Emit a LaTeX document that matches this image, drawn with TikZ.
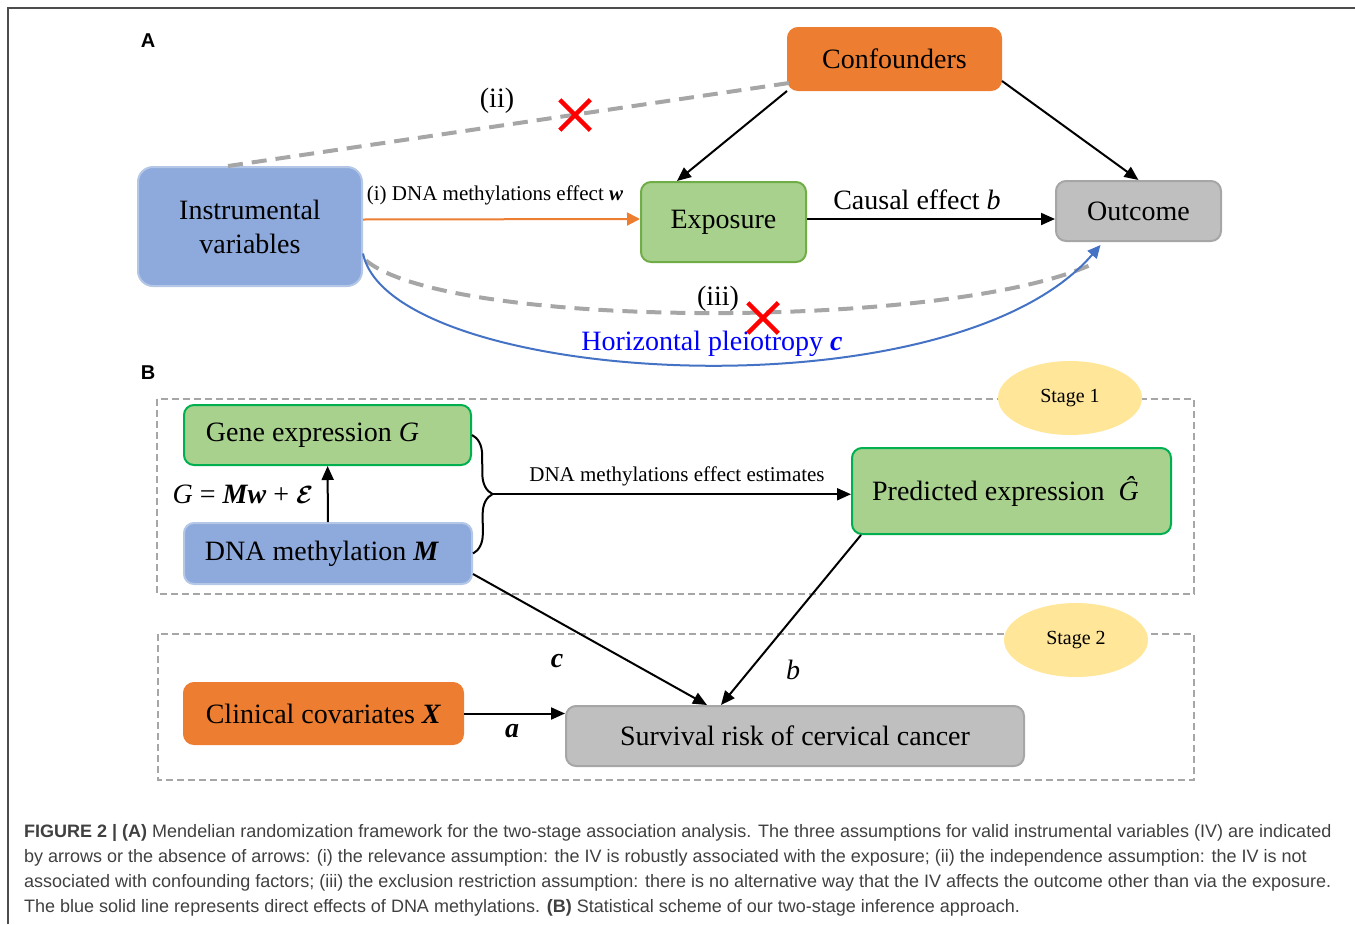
\documentclass[tikz,border=0pt]{standalone}
\usepackage{amsmath,bm}
\usepackage{fontspec}
\setmainfont{Liberation Serif}
\newfontfamily\capfont{Liberation Sans}
\usetikzlibrary{arrows.meta,calc,shapes.geometric,shapes.misc,decorations.pathreplacing}
\definecolor{ivblue}{HTML}{8EA9DB}
\definecolor{ivline}{HTML}{B4C7E7}
\definecolor{cforange}{HTML}{ED7D31}
\definecolor{expgreen}{HTML}{A9D18E}
\definecolor{expline}{HTML}{70AD47}
\definecolor{brightgreen}{HTML}{00B050}
\definecolor{outgray}{HTML}{BFBFBF}
\definecolor{outline}{HTML}{A6A6A6}
\definecolor{stageyellow}{HTML}{FFE699}
\definecolor{pleioblue}{HTML}{4472C4}
\definecolor{captext}{HTML}{404040}
\newcommand\bitext[1]{\textbf{\textit{#1}}}

\begin{document}
\begin{tikzpicture}[x=1pt,y=-1pt,
    box/.style={rounded corners=10pt,line width=2pt,inner sep=0pt,align=center,
      font=\fontsize{28}{34}\selectfont},
    lab/.style={font=\fontsize{28}{32}\selectfont,inner sep=0pt},
    smalllab/.style={font=\fontsize{21}{24}\selectfont,inner sep=0pt},
    arr/.style={line width=2pt,-{Triangle[length=14pt,width=12pt]}},
    notpath/.style={draw=outline,line width=4pt,dash pattern=on 15pt off 9pt},
    nox/.style={cross out,draw=red,line width=4.5pt,minimum size=26pt,inner sep=0pt},
    stagebox/.style={draw=outline,line width=1.6pt,dash pattern=on 7pt off 4pt},
    stage/.style={ellipse,fill=stageyellow,minimum width=144pt,minimum height=74pt,
      inner sep=0pt,font=\fontsize{20}{24}\selectfont},
    panel/.style={font=\capfont\bfseries\fontsize{20}{24}\selectfont,inner sep=0pt},
    capline/.style={anchor=west,inner sep=0pt,text=captext,
      font=\capfont\fontsize{18}{20}\selectfont}]
  \useasboundingbox (0,0) rectangle (1355,924);
  \draw[black!70,line width=1.5pt] (8,924) -- (8,8) -- (1355,8);

  % panel A
  \path (148,41) node[panel] (pa) {A};
  \node[box,rounded corners=15pt,fill=ivblue,draw=ivline,minimum width=224pt,minimum height=119pt]
    (iv) at (250,226.5) {Instrumental\\variables};
  \node[box,fill=cforange,draw=cforange,minimum width=213pt,minimum height=62pt]
    (conf) at (894.5,59) {Confounders};
  \node[box,fill=expgreen,draw=expline,minimum width=165pt,minimum height=80pt]
    (exp) at (723.5,222) {Exposure};
  \node[box,fill=outgray,draw=outline,minimum width=165pt,minimum height=60pt]
    (out) at (1138.5,211) {Outcome};

  \draw[notpath] ($(iv.north)+(-22,0)$) -- ($(conf.south west)+(2,-8)$);
  \draw[notpath] ($(iv.east)+(3,34)$) .. controls (450,330) and (950,330) .. ($(out.south)+(-46,22)$);
  \draw[arr,cforange,-{Triangle[length=13pt,width=13pt]}] ($(iv.east)+(0,-7)$) -- ($(exp.west)+(0,-3)$);
  \draw[arr] ($(exp.east)+(0,-3)$) -- ($(exp.east -| out.west)+(0,-3)$);
  \draw[arr] (conf.south west) -- ($(exp.north west)+(37,0)$);
  \draw[arr] ($(conf.south east)+(0,-10)$) -- (out.north);
  \draw[arr,pleioblue,-{Triangle[length=13pt,width=12pt]}] ($(iv.east)+(0,27)$)
    .. controls (390,385) and (950,420) .. ($(out.south)+(-38,3)$);

  \path (495,195) node[smalllab] (lw) {(i) DNA methylations effect \bitext{w}};
  \path (917,200) node[lab] (lb) {Causal effect \textit{b}};
  \path (497,101) node[lab] (lii) {(ii)};
  \path (718,299) node[lab] (liii) {(iii)};
  \path (712,344) node[lab,text={rgb,255:red,0;green,0;blue,255}] (lc) {Horizontal pleiotropy \bitext{c}};
  \node[nox] (xii) at (575,115) {};
  \node[nox] (xiii) at (763,318) {};

  % panel B
  \path (148,373) node[panel] (pb) {B};
  \draw[stagebox] (157,399) rectangle (1194,594);
  \draw[stagebox] (158,634) rectangle (1194,780);
  \node[stage] (s1) at (1070,398) {Stage 1};
  \node[stage] (s2) at (1076,640) {Stage 2};

  \node[box,fill=expgreen,draw=brightgreen,minimum width=287pt,minimum height=60pt]
    (gene) at (327.5,435) {Gene expression \textit{G}\hspace*{30pt}};
  \node[box,fill=ivblue,draw=ivline,minimum width=288pt,minimum height=61pt]
    (dna) at (328,553.5) {DNA methylation \bitext{M}\hspace*{12pt}};
  \node[box,fill=expgreen,draw=brightgreen,minimum width=319pt,minimum height=86pt]
    (pred) at (1011.5,491) {Predicted expression\ \ \textit{Ĝ}\hspace*{12pt}};
  \node[box,fill=cforange,draw=cforange,minimum width=279pt,minimum height=61pt]
    (clin) at (323.5,713.5) {Clinical covariates \bitext{X}};
  \node[box,fill=outgray,draw=outline,minimum width=458pt,minimum height=60pt]
    (surv) at (795,736) {Survival risk of cervical cancer};

  \draw[arr] (dna) -- (gene);
  \draw[line width=2pt,decorate,decoration={brace,amplitude=20pt}] (gene.east) -- (dna.east);
  \coordinate (tip) at ($(gene.east)!0.5!(dna.east)+(20,0)$);
  \draw[arr] (tip) -- (tip -| pred.west);
  \draw[arr] ($(dna.south east)+(0,-11)$) -- ($(surv.north west)+(142,0)$);
  \draw[arr] ($(pred.south west)+(10,0)$) -- ($(surv.north west)+(156,0)$);
  \draw[arr] (clin.east) -- (clin.east -| surv.west);

  \path (243,494) node[lab] (leq) {\textit{G} = \bitext{Mw} + $\bm{\mathcal{E}}$};
  \path (677,476) node[smalllab] (lest) {DNA methylations effect estimates};
  \path (793,670) node[lab] (lbb) {\textit{b}};
  \path (557,661) node[lab] (lcc) {\bitext{c}};
  \path (512,731) node[lab] (la) {\bitext{a}};

  % caption
  \path (24,833) node[capline] (cap1) {\textbf{FIGURE 2 | (A)} Mendelian randomization framework for the two-stage association analysis. The three assumptions for valid instrumental variables (IV) are indicated};
  \path (24,858) node[capline] (cap2) {by arrows or the absence of arrows: (i) the relevance assumption: the IV is robustly associated with the exposure; (ii) the independence assumption: the IV is not};
  \path (24,883) node[capline] (cap3) {associated with confounding factors; (iii) the exclusion restriction assumption: there is no alternative way that the IV affects the outcome other than via the exposure.};
  \path (24,908) node[capline] (cap4) {The blue solid line represents direct effects of DNA methylations. \textbf{(B)} Statistical scheme of our two-stage inference approach.};
\end{tikzpicture}
\end{document}
